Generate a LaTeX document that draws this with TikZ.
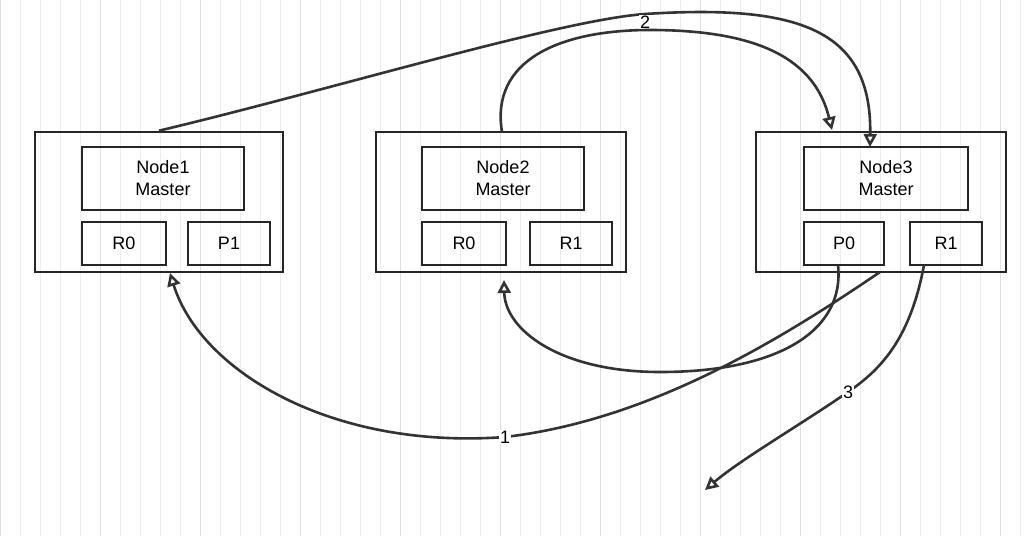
\documentclass[tikz,border=0pt]{standalone}
\usepackage{fontspec}
\setmainfont{Liberation Sans}
\usetikzlibrary{arrows.meta}
\begin{document}
\begin{tikzpicture}[x=1pt,y=-1pt,
  box/.style={draw=black!85,line width=2.6pt,inner sep=0pt,font=\fontsize{18}{22}\selectfont,align=center},
  con/.style={draw=black!80,line width=2.6pt,-{Stealth[length=13pt,width=13pt,inset=0pt,open,fill=none]}},
  lab/.style={fill=white,inner sep=1pt,font=\fontsize{18}{20}\selectfont}]
\useasboundingbox (0,0) rectangle (1032,536);
\fill[white] (0,0) rectangle (1032,536);
\draw[black!7,line width=0.8pt] (0,0) grid[step=20] (1032,536);
\draw[black!12,line width=1pt] (0,0) grid[step=100] (1032,536);
% outer boxes
\node[box,minimum width=248,minimum height=140] (n1) at (159,202) {};
\node[box,minimum width=250,minimum height=140] (n2) at (501,202) {};
\node[box,minimum width=250,minimum height=140] (n3) at (881,202) {};
% inner
\node[box,minimum width=162,minimum height=63] (m1) at (163,178.5) {Node1\\Master};
\node[box,minimum width=162,minimum height=63] (m2) at (503,178.5) {Node2\\Master};
\node[box,minimum width=164,minimum height=63] (m3) at (886,178.5) {Node3\\Master};
\node[box,minimum width=84,minimum height=43] (a1) at (124,243.5) {R0};
\node[box,minimum width=82,minimum height=43] (b1) at (229,243.5) {P1};
\node[box,minimum width=84,minimum height=43] (a2) at (464,243.5) {R0};
\node[box,minimum width=82,minimum height=43] (b2) at (571,243.5) {R1};
\node[box,minimum width=80,minimum height=43] (a3) at (844,243.5) {P0};
\node[box,minimum width=72,minimum height=43] (b3) at (946,243.5) {R1};
\coordinate (e3) at (705,490);
% connectors
\draw[con] (n1.north) .. controls (330,90) and (560,20) .. (645,14)
  .. controls (800,4) and (872,30) .. (870,147);
\node[lab] (l2) at (645,22) {2};
\draw[con] (502,132) .. controls (490,60) and (560,30) .. (650,30)
  .. controls (760,30) and (815,60) .. (832,130);
\draw[con] (880,272) .. controls (780,340) and (650,420) .. (505,437)
  .. controls (330,450) and (200,370) .. (170,273);
\node[lab] (l1) at (505,437) {1};
\draw[con] (838,265) .. controls (845,330) and (780,372) .. (660,372)
  .. controls (560,372) and (505,330) .. (504,280);
\draw[con] (924,265) .. controls (910,340) and (880,370) .. (848,392)
  .. controls (800,425) and (740,460) .. (e3);
\node[lab] (l3) at (848,392) {3};
\end{tikzpicture}
\end{document}
